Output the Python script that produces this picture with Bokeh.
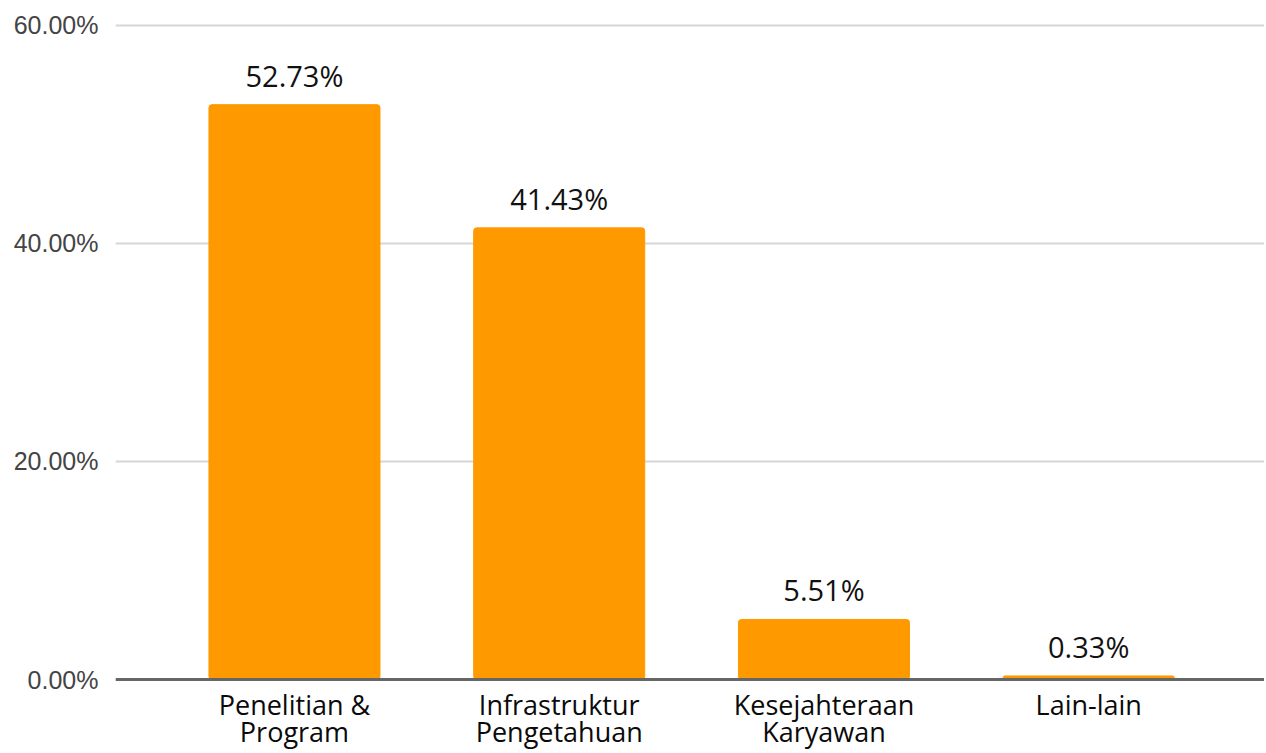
import numpy as np
from bokeh.plotting import figure
from bokeh.models import ColumnDataSource, Range1d, FixedTicker, PrintfTickFormatter, Span
from bokeh.core.properties import value
from bokeh.embed import file_html
from bokeh.resources import INLINE

categories = ["Penelitian &\nProgram", "Infrastruktur\nPengetahuan", "Kesejahteraan\nKaryawan", "Lain-lain"]
shares = [52.73, 41.43, 5.51, 0.33]
y_ticks = [0, 20, 40, 60]

xpos = np.arange(len(categories)) + 0.5
line1 = [c.split("\n")[0] for c in categories]
line2 = [c.split("\n")[1] if "\n" in c else "" for c in categories]
src = ColumnDataSource(dict(x=xpos, top=shares, l1=line1, l2=line2,
                            label=[f"{v:.2f}%" for v in shares]))

# the frame runs down to the bottom of the figure so that the category
# labels (drawn as text glyphs under the zero line) are not clipped
p = figure(width=1264, height=751, output_backend="svg", toolbar_location=None,
           x_range=Range1d(-0.176, 4.164), y_range=Range1d(-6.6, 61),
           min_border_left=115, min_border_right=0, min_border_top=14, min_border_bottom=0)
p.outline_line_color = None
p.background_fill_color = "white"
p.border_fill_color = "white"

p.vbar(x="x", top="top", bottom=0, width=0.646, source=src, color="#ff9900",
       border_radius=3)
p.text(x="x", y="top", text="label", source=src, text_align="center",
       text_baseline="bottom", y_offset=-10, text_font=value("Open Sans"),
       text_font_size="29px", text_color="#111111")

p.xgrid.visible = False
p.ygrid.grid_line_color = "#d6d6d6"
p.ygrid.grid_line_width = 2
p.ygrid.ticker = FixedTicker(ticks=y_ticks)

p.yaxis.ticker = FixedTicker(ticks=y_ticks)
p.yaxis.formatter = PrintfTickFormatter(format="%.2f%%")
p.yaxis.axis_line_color = None
p.yaxis.major_tick_line_color = None
p.yaxis.minor_tick_line_color = None
p.yaxis.major_tick_out = 0
p.yaxis.major_label_text_font = "Liberation Sans"
p.yaxis.major_label_text_font_size = "25px"
p.yaxis.major_label_text_color = "#444444"
p.yaxis.major_label_standoff = 17

p.xaxis.visible = False
p.add_layout(Span(location=0, dimension="width", line_color="#666666", line_width=3))

for col, off in (("l1", 25), ("l2", 52)):
    p.text(x="x", y=0, text=col, source=src, text_align="center",
           text_baseline="alphabetic", y_offset=off, text_font=value("Open Sans"),
           text_font_size="27px", text_color="#0a0a0a")

open("out.html", "w").write(file_html(p, INLINE))
